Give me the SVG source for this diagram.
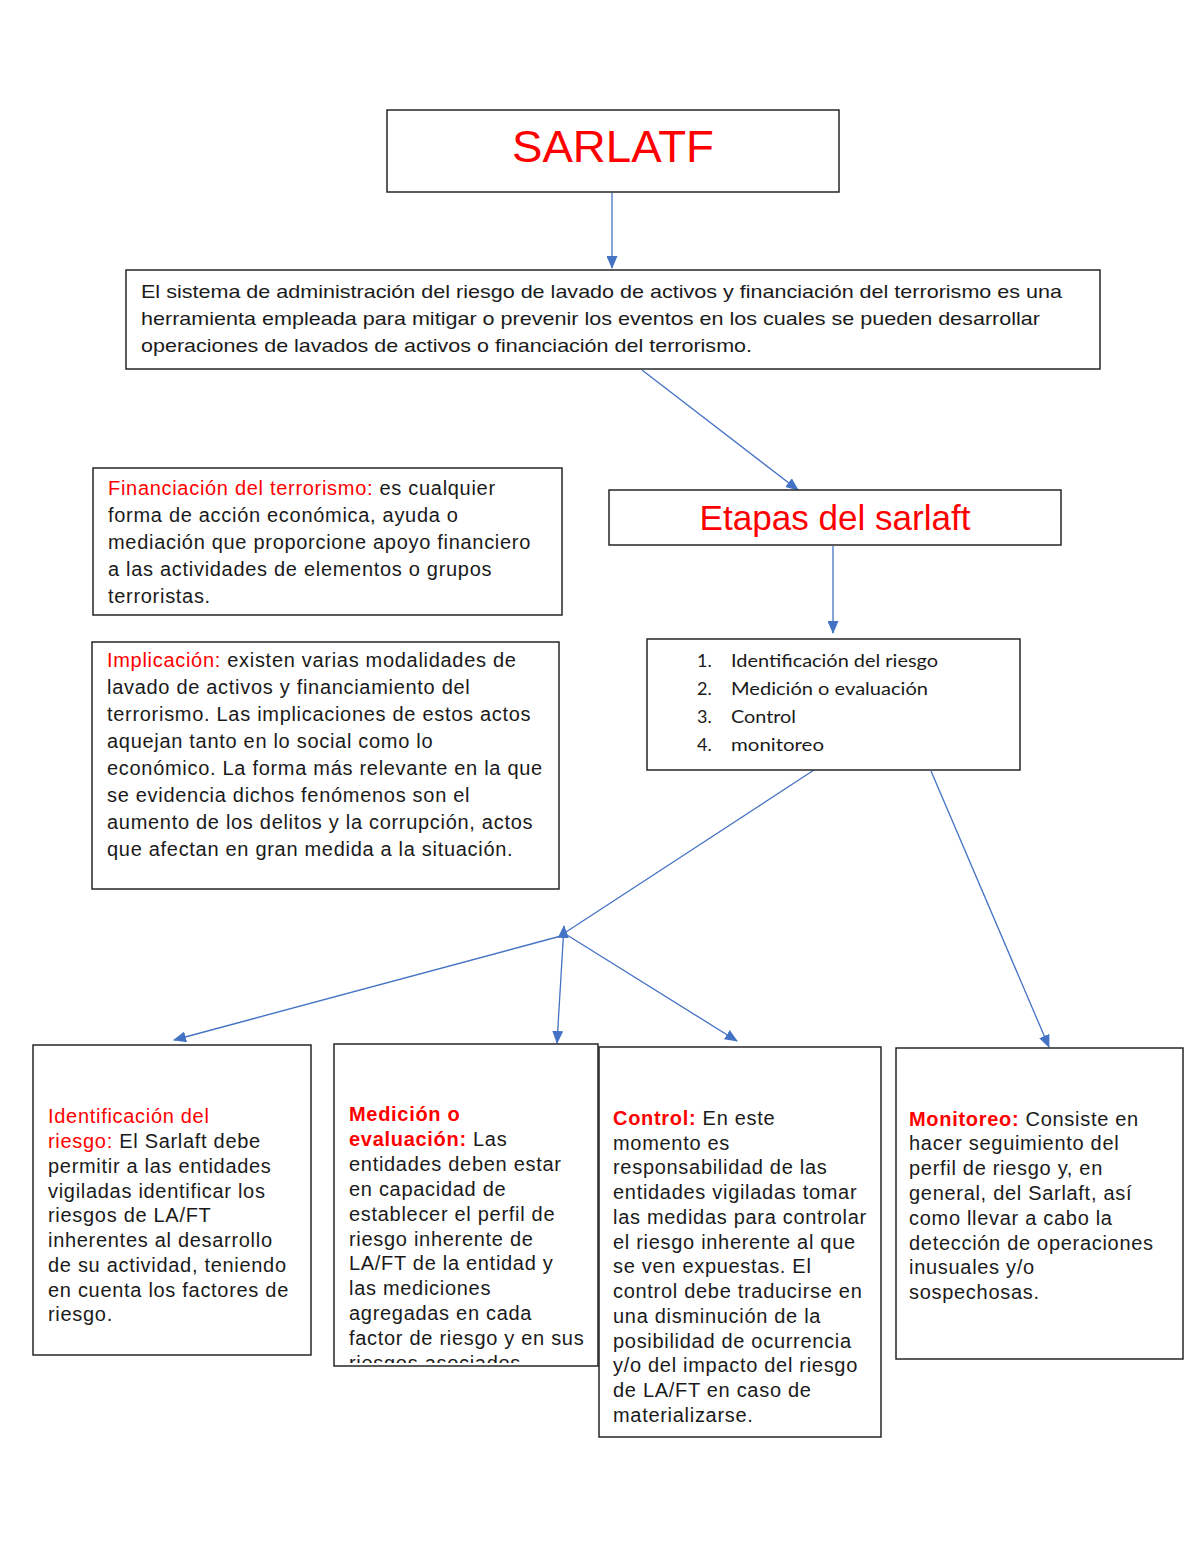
<svg xmlns="http://www.w3.org/2000/svg" width="1200" height="1553" viewBox="0 0 1200 1553">
<style>
.box{fill:#fff;stroke:#262626;stroke-width:1.5}
.t{font-family:"Liberation Sans",Arial,sans-serif;font-size:20px;fill:#1a1a1a;letter-spacing:0.7px}
.tt{font-family:"Liberation Sans",Arial,sans-serif;font-size:19px;fill:#1a1a1a}
.red{fill:#ff0000}
.b{font-weight:bold}
.title{font-family:"Liberation Sans",Arial,sans-serif;fill:#ff0000}
.li{font-family:Lato,"Open Sans",sans-serif;font-size:18px;fill:#1a1a1a}
.c{stroke:#4472c4;stroke-width:1.3;fill:none}
</style>
<defs>
<marker id="ah" markerUnits="userSpaceOnUse" markerWidth="13" markerHeight="11" refX="12" refY="5.5" orient="auto-start-reverse" viewBox="0 0 13 11">
<path d="M0,0 L13,5.5 L0,11 z" fill="#4472c4"/>
</marker>
<clipPath id="clipMed"><rect x="334" y="1044" width="264" height="319"/></clipPath>
</defs>

<g id="connectors">
<line class="c" x1="612" y1="193" x2="612" y2="268" marker-end="url(#ah)"/>
<line class="c" x1="642" y1="370" x2="798" y2="490" marker-end="url(#ah)"/>
<line class="c" x1="833" y1="546" x2="833" y2="633" marker-end="url(#ah)"/>
<line class="c" x1="814" y1="770" x2="566" y2="932"/>
<line class="c" x1="557" y1="1043" x2="564" y2="926" marker-start="url(#ah)" marker-end="url(#ah)"/>
<line class="c" x1="561" y1="936" x2="174" y2="1040" marker-end="url(#ah)"/>
<line class="c" x1="567" y1="935" x2="737" y2="1041" marker-end="url(#ah)"/>
<line class="c" x1="931" y1="771" x2="1049" y2="1047" marker-end="url(#ah)"/>
</g>

<g id="node-sarlatf">
<rect class="box" x="387" y="110" width="452" height="82"/>
<text class="title" x="613" y="162" font-size="45" text-anchor="middle" textLength="202" lengthAdjust="spacingAndGlyphs">SARLATF</text>
</g>

<g id="node-definicion">
<rect class="box" x="126" y="270" width="974" height="99"/>
<text class="tt" x="141" y="298" textLength="921" lengthAdjust="spacingAndGlyphs">El sistema de administración del riesgo de lavado de activos y financiación del terrorismo es una</text>
<text class="tt" x="141" y="325" textLength="899" lengthAdjust="spacingAndGlyphs">herramienta empleada para mitigar o prevenir los eventos en los cuales se pueden desarrollar</text>
<text class="tt" x="141" y="352" textLength="611" lengthAdjust="spacingAndGlyphs">operaciones de lavados de activos o financiación del terrorismo.</text>
</g>

<g id="node-etapas">
<rect class="box" x="609" y="490" width="452" height="55"/>
<text class="title" x="835" y="530" font-size="35" text-anchor="middle" textLength="271" lengthAdjust="spacingAndGlyphs">Etapas del sarlaft</text>
</g>

<g id="node-lista">
<rect class="box" x="647" y="639" width="373" height="131"/>
<text class="li" x="697" y="667">1.</text>
<text class="li" x="731" y="667" textLength="207" lengthAdjust="spacingAndGlyphs">Identificación del riesgo</text>
<text class="li" x="697" y="695">2.</text>
<text class="li" x="731" y="695" textLength="197" lengthAdjust="spacingAndGlyphs">Medición o evaluación</text>
<text class="li" x="697" y="723">3.</text>
<text class="li" x="731" y="723" textLength="65" lengthAdjust="spacingAndGlyphs">Control</text>
<text class="li" x="697" y="751">4.</text>
<text class="li" x="731" y="751" textLength="93" lengthAdjust="spacingAndGlyphs">monitoreo</text>
</g>

<g id="node-financiacion">
<rect class="box" x="93" y="468" width="469" height="147"/>
<text class="t" x="108" y="495"><tspan class="red">Financiación del terrorismo:</tspan> es cualquier</text>
<text class="t" x="108" y="522">forma de acción económica, ayuda o</text>
<text class="t" x="108" y="549">mediación que proporcione apoyo financiero</text>
<text class="t" x="108" y="576">a las actividades de elementos o grupos</text>
<text class="t" x="108" y="603">terroristas.</text>
</g>

<g id="node-implicacion">
<rect class="box" x="92" y="642" width="467" height="247"/>
<text class="t" x="107" y="667"><tspan class="red">Implicación:</tspan> existen varias modalidades de</text>
<text class="t" x="107" y="694">lavado de activos y financiamiento del</text>
<text class="t" x="107" y="721">terrorismo. Las implicaciones de estos actos</text>
<text class="t" x="107" y="748">aquejan tanto en lo social como lo</text>
<text class="t" x="107" y="775">económico. La forma más relevante en la que</text>
<text class="t" x="107" y="802">se evidencia dichos fenómenos son el</text>
<text class="t" x="107" y="829">aumento de los delitos y la corrupción, actos</text>
<text class="t" x="107" y="856">que afectan en gran medida a la situación.</text>
</g>

<g id="node-identificacion">
<rect class="box" x="33" y="1045" width="278" height="310"/>
<text class="t" x="48" y="1123"><tspan class="red">Identificación del</tspan></text>
<text class="t" x="48" y="1148"><tspan class="red">riesgo:</tspan> El Sarlaft debe</text>
<text class="t" x="48" y="1173">permitir a las entidades</text>
<text class="t" x="48" y="1198">vigiladas identificar los</text>
<text class="t" x="48" y="1222">riesgos de LA/FT</text>
<text class="t" x="48" y="1247">inherentes al desarrollo</text>
<text class="t" x="48" y="1272">de su actividad, teniendo</text>
<text class="t" x="48" y="1297">en cuenta los factores de</text>
<text class="t" x="48" y="1321">riesgo.</text>
</g>

<g id="node-medicion">
<rect class="box" x="334" y="1044" width="264" height="322"/>
<text class="t" x="349" y="1121"><tspan class="red b">Medición o</tspan></text>
<text class="t" x="349" y="1146"><tspan class="red b">evaluación:</tspan> Las</text>
<text class="t" x="349" y="1171">entidades deben estar</text>
<text class="t" x="349" y="1196">en capacidad de</text>
<text class="t" x="349" y="1221">establecer el perfil de</text>
<text class="t" x="349" y="1246">riesgo inherente de</text>
<text class="t" x="349" y="1270">LA/FT de la entidad y</text>
<text class="t" x="349" y="1295">las mediciones</text>
<text class="t" x="349" y="1320">agregadas en cada</text>
<text class="t" x="349" y="1345">factor de riesgo y en sus</text>
<text class="t" x="349" y="1370" clip-path="url(#clipMed)">riesgos asociados</text>
</g>

<g id="node-control">
<rect class="box" x="599" y="1047" width="282" height="390"/>
<text class="t" x="613" y="1125"><tspan class="red b">Control:</tspan> En este</text>
<text class="t" x="613" y="1150">momento es</text>
<text class="t" x="613" y="1174">responsabilidad de las</text>
<text class="t" x="613" y="1199">entidades vigiladas tomar</text>
<text class="t" x="613" y="1224">las medidas para controlar</text>
<text class="t" x="613" y="1249">el riesgo inherente al que</text>
<text class="t" x="613" y="1273">se ven expuestas. El</text>
<text class="t" x="613" y="1298">control debe traducirse en</text>
<text class="t" x="613" y="1323">una disminución de la</text>
<text class="t" x="613" y="1348">posibilidad de ocurrencia</text>
<text class="t" x="613" y="1372">y/o del impacto del riesgo</text>
<text class="t" x="613" y="1397">de LA/FT en caso de</text>
<text class="t" x="613" y="1422">materializarse.</text>
</g>

<g id="node-monitoreo">
<rect class="box" x="896" y="1048" width="287" height="311"/>
<text class="t" x="909" y="1126"><tspan class="red b">Monitoreo:</tspan> Consiste en</text>
<text class="t" x="909" y="1150">hacer seguimiento del</text>
<text class="t" x="909" y="1175">perfil de riesgo y, en</text>
<text class="t" x="909" y="1200">general, del Sarlaft, así</text>
<text class="t" x="909" y="1225">como llevar a cabo la</text>
<text class="t" x="909" y="1250">detección de operaciones</text>
<text class="t" x="909" y="1274">inusuales y/o</text>
<text class="t" x="909" y="1299">sospechosas.</text>
</g>
</svg>
